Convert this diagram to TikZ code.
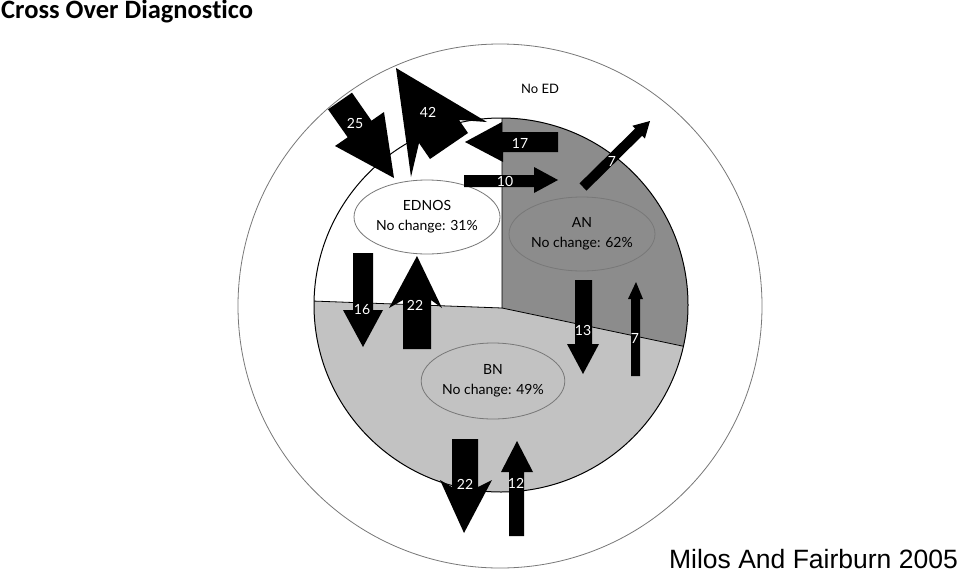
\documentclass[tikz,border=0pt]{standalone}
\usepackage{fontspec}
\setmainfont{Lato}
\newfontfamily\titlefont[Ligatures=NoCommon]{Carlito}
\newfontfamily\creditfont{Liberation Sans}
\usetikzlibrary{shapes.geometric}
\definecolor{angray}{RGB}{140,140,140}
\definecolor{bngray}{RGB}{194,194,194}
\definecolor{rimgray}{RGB}{120,120,120}

\begin{document}
\begin{tikzpicture}[x=1pt,y=-1pt,
	flow/.style={fill=black},
	num/.style={text=white,inner sep=0pt,font=\fontsize{14}{14}\selectfont},
	group/.style={ellipse,draw=rimgray,line width=0.8pt,align=center,inner sep=0pt,
		minimum width=146pt,minimum height=74pt,font=\fontsize{14}{20}\selectfont}]
	\useasboundingbox[fill=white] (0,0) rectangle (960,573);
	\coordinate (C) at (501,305);
	\coordinate (J) at (502,308);

	% outer ring: no ED
	\draw[rimgray,line width=0.8pt] (500,306) circle (262);

	% inner disc split in three parts
	\begin{scope}
		\clip (C) circle (187);
		\fill[angray] (502,100) -- (J) -- (750,360.3) -- (750,100) -- cycle;
		\fill[bngray] (250,298.7) -- (J) -- (750,360.3) -- (750,520) -- (250,520) -- cycle;
		\draw[line width=0.8pt] (502,100) -- (J) -- (750,360.3);
		\draw[line width=0.8pt] (J) -- (250,298.7);
	\end{scope}
	\draw[line width=1pt] (C) circle (187);

	\node[group,fill=white] (ednos) at (427,217) {EDNOS\\No change: 31\%};
	\node[group,fill=angray] (an) at (582,234) {AN\\No change: 62\%};
	\node[group,fill=bngray,minimum width=140pt,minimum height=76pt] (bn) at (493,381) {BN\\No change: 49\%};
	\node[font=\fontsize{13}{13}\selectfont] (noed) at (540,89) {No ED};

	% flows into EDNOS
	\fill[flow] (328,109.3) -- (352,92.7) -- (371.5,120.7) -- (384,112) -- (394,178)
		-- (335,146) -- (347.7,137.3) -- cycle;
	\node[num] (n25) at (355,123) {25};
	\fill[flow] (396,68) -- (487,122) -- (459,120) -- (468,133) -- (430,159)
		-- (419,143) -- (411,177) -- (406,140) -- cycle;
	\node[num] (n42) at (428,112) {42};
	\fill[flow] (558,132) -- (502,132) -- (502,122) -- (465,142) -- (503,162)
		-- (503,152) -- (558,152) -- cycle;
	\node[num] (n17) at (520,143) {17};
	\fill[flow] (464,175) -- (534,175) -- (534,167) -- (558,180) -- (534,193)
		-- (534,187) -- (464,187) -- cycle;
	\node[num] (n10) at (505,181) {10};

	% AN out to no ED
	\fill[flow] (579.5,183.4) -- (635.1,128.6) -- (632.3,125.8) -- (650,121)
		-- (644.9,138.6) -- (642.1,135.8) -- (586.5,190.6) -- cycle;
	\node[num] (n7a) at (612,161) {7};

	% EDNOS <-> BN
	\fill[flow] (353,253) -- (373,253) -- (373,310) -- (383,310) -- (363,347)
		-- (343,310) -- (353,310) -- cycle;
	\node[num] (n16) at (362,310) {16};
	\fill[flow] (403,349) -- (403,300) -- (389,308) -- (417,256) -- (442,308)
		-- (431,300) -- (431,349) -- cycle;
	\node[num] (n22a) at (415,305) {22};

	% AN <-> BN
	\fill[flow] (575,280) -- (592,280) -- (592,344) -- (599,344) -- (583,374)
		-- (567,344) -- (575,344) -- cycle;
	\node[num] (n13) at (583,330) {13};
	\fill[flow] (631,376) -- (631,299) -- (628,299) -- (636,282) -- (643,299)
		-- (640,299) -- (640,376) -- cycle;
	\node[num] (n7b) at (635,338) {7};

	% BN <-> no ED
	\fill[flow] (452,439) -- (478,439) -- (478,487) -- (492,480) -- (464,533)
		-- (440,480) -- (452,487) -- cycle;
	\node[num] (n22b) at (465,484) {22};
	\fill[flow] (509,536) -- (509,472) -- (501,472) -- (517,441) -- (533,472)
		-- (524,472) -- (524,536) -- cycle;
	\node[num] (n12) at (516,483) {12};

	\node[anchor=base west,inner sep=0pt,font=\titlefont\bfseries\fontsize{26.5}{26.5}\selectfont]
		(title) at (1,18) {Cross Over Diagnostico};
	\node[anchor=base east,inner sep=0pt,font=\creditfont\fontsize{26.5}{26.5}\selectfont]
		(credit) at (958,568) {Milos And Fairburn 2005};
\end{tikzpicture}
\end{document}
